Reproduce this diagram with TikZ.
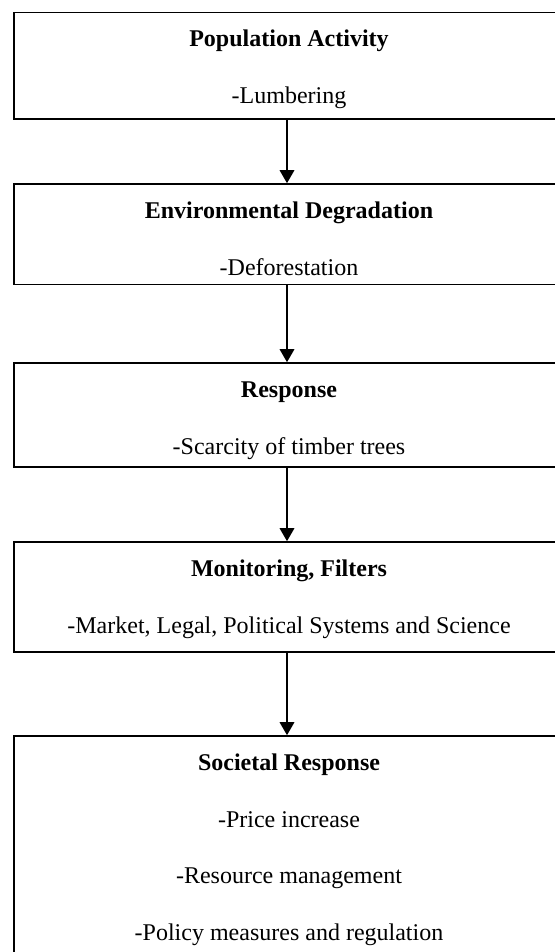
\documentclass[tikz,border=0pt]{standalone}
\usepackage{fontspec}
\setmainfont{Liberation Serif}
\usetikzlibrary{arrows.meta}
\begin{document}
\begin{tikzpicture}[x=1pt,y=-1pt,
  box/.style={draw=black,line width=1.6pt,rectangle,inner sep=0pt,minimum width=546pt},
  ttl/.style={anchor=base,font=\fontsize{24}{28}\selectfont\bfseries,inner sep=0pt},
  sub/.style={anchor=base,font=\fontsize{24}{28}\selectfont,inner sep=0pt},
  arr/.style={line width=1.8pt,-{Triangle[length=13pt,width=14.5pt]}}]
\useasboundingbox (0,0) rectangle (554,952);
% boxes
\node[box,minimum height=106.5pt] (b1) at (287,65.75) {};
\node[box,minimum height=100.5pt] (b2) at (287,234.25) {};
\node[box,minimum height=104pt] (b3) at (287,415) {};
\node[box,minimum height=110pt] (b4) at (287,597) {};
\node[box,minimum height=264pt] (b5) at (287,868) {};
% texts
\node[ttl] (t1) at (289,46.5) {Population Activity};
\node[sub] (s1) at (289,104) {-Lumbering};
\node[ttl] (t2) at (289,218) {Environmental Degradation};
\node[sub] (s2) at (289,275) {-Deforestation};
\node[ttl] (t3) at (289,397) {Response};
\node[sub] (s3) at (289,454) {-Scarcity of timber trees};
\node[ttl] (t4) at (289,576) {Monitoring, Filters};
\node[sub] (s4) at (289,633) {-Market, Legal, Political Systems and Science};
\node[ttl] (t5) at (289,770.5) {Societal Response};
\node[sub] (s5a) at (289,827) {-Price increase};
\node[sub] (s5b) at (289,883.5) {-Resource management};
\node[sub] (s5c) at (289,940) {-Policy measures and regulation};
% arrows
\draw[arr] (b1.south) -- (b2.north);
\draw[arr] (b2.south) -- (b3.north);
\draw[arr] (b3.south) -- (b4.north);
\draw[arr] (b4.south) -- (b5.north);
\end{tikzpicture}
\end{document}
